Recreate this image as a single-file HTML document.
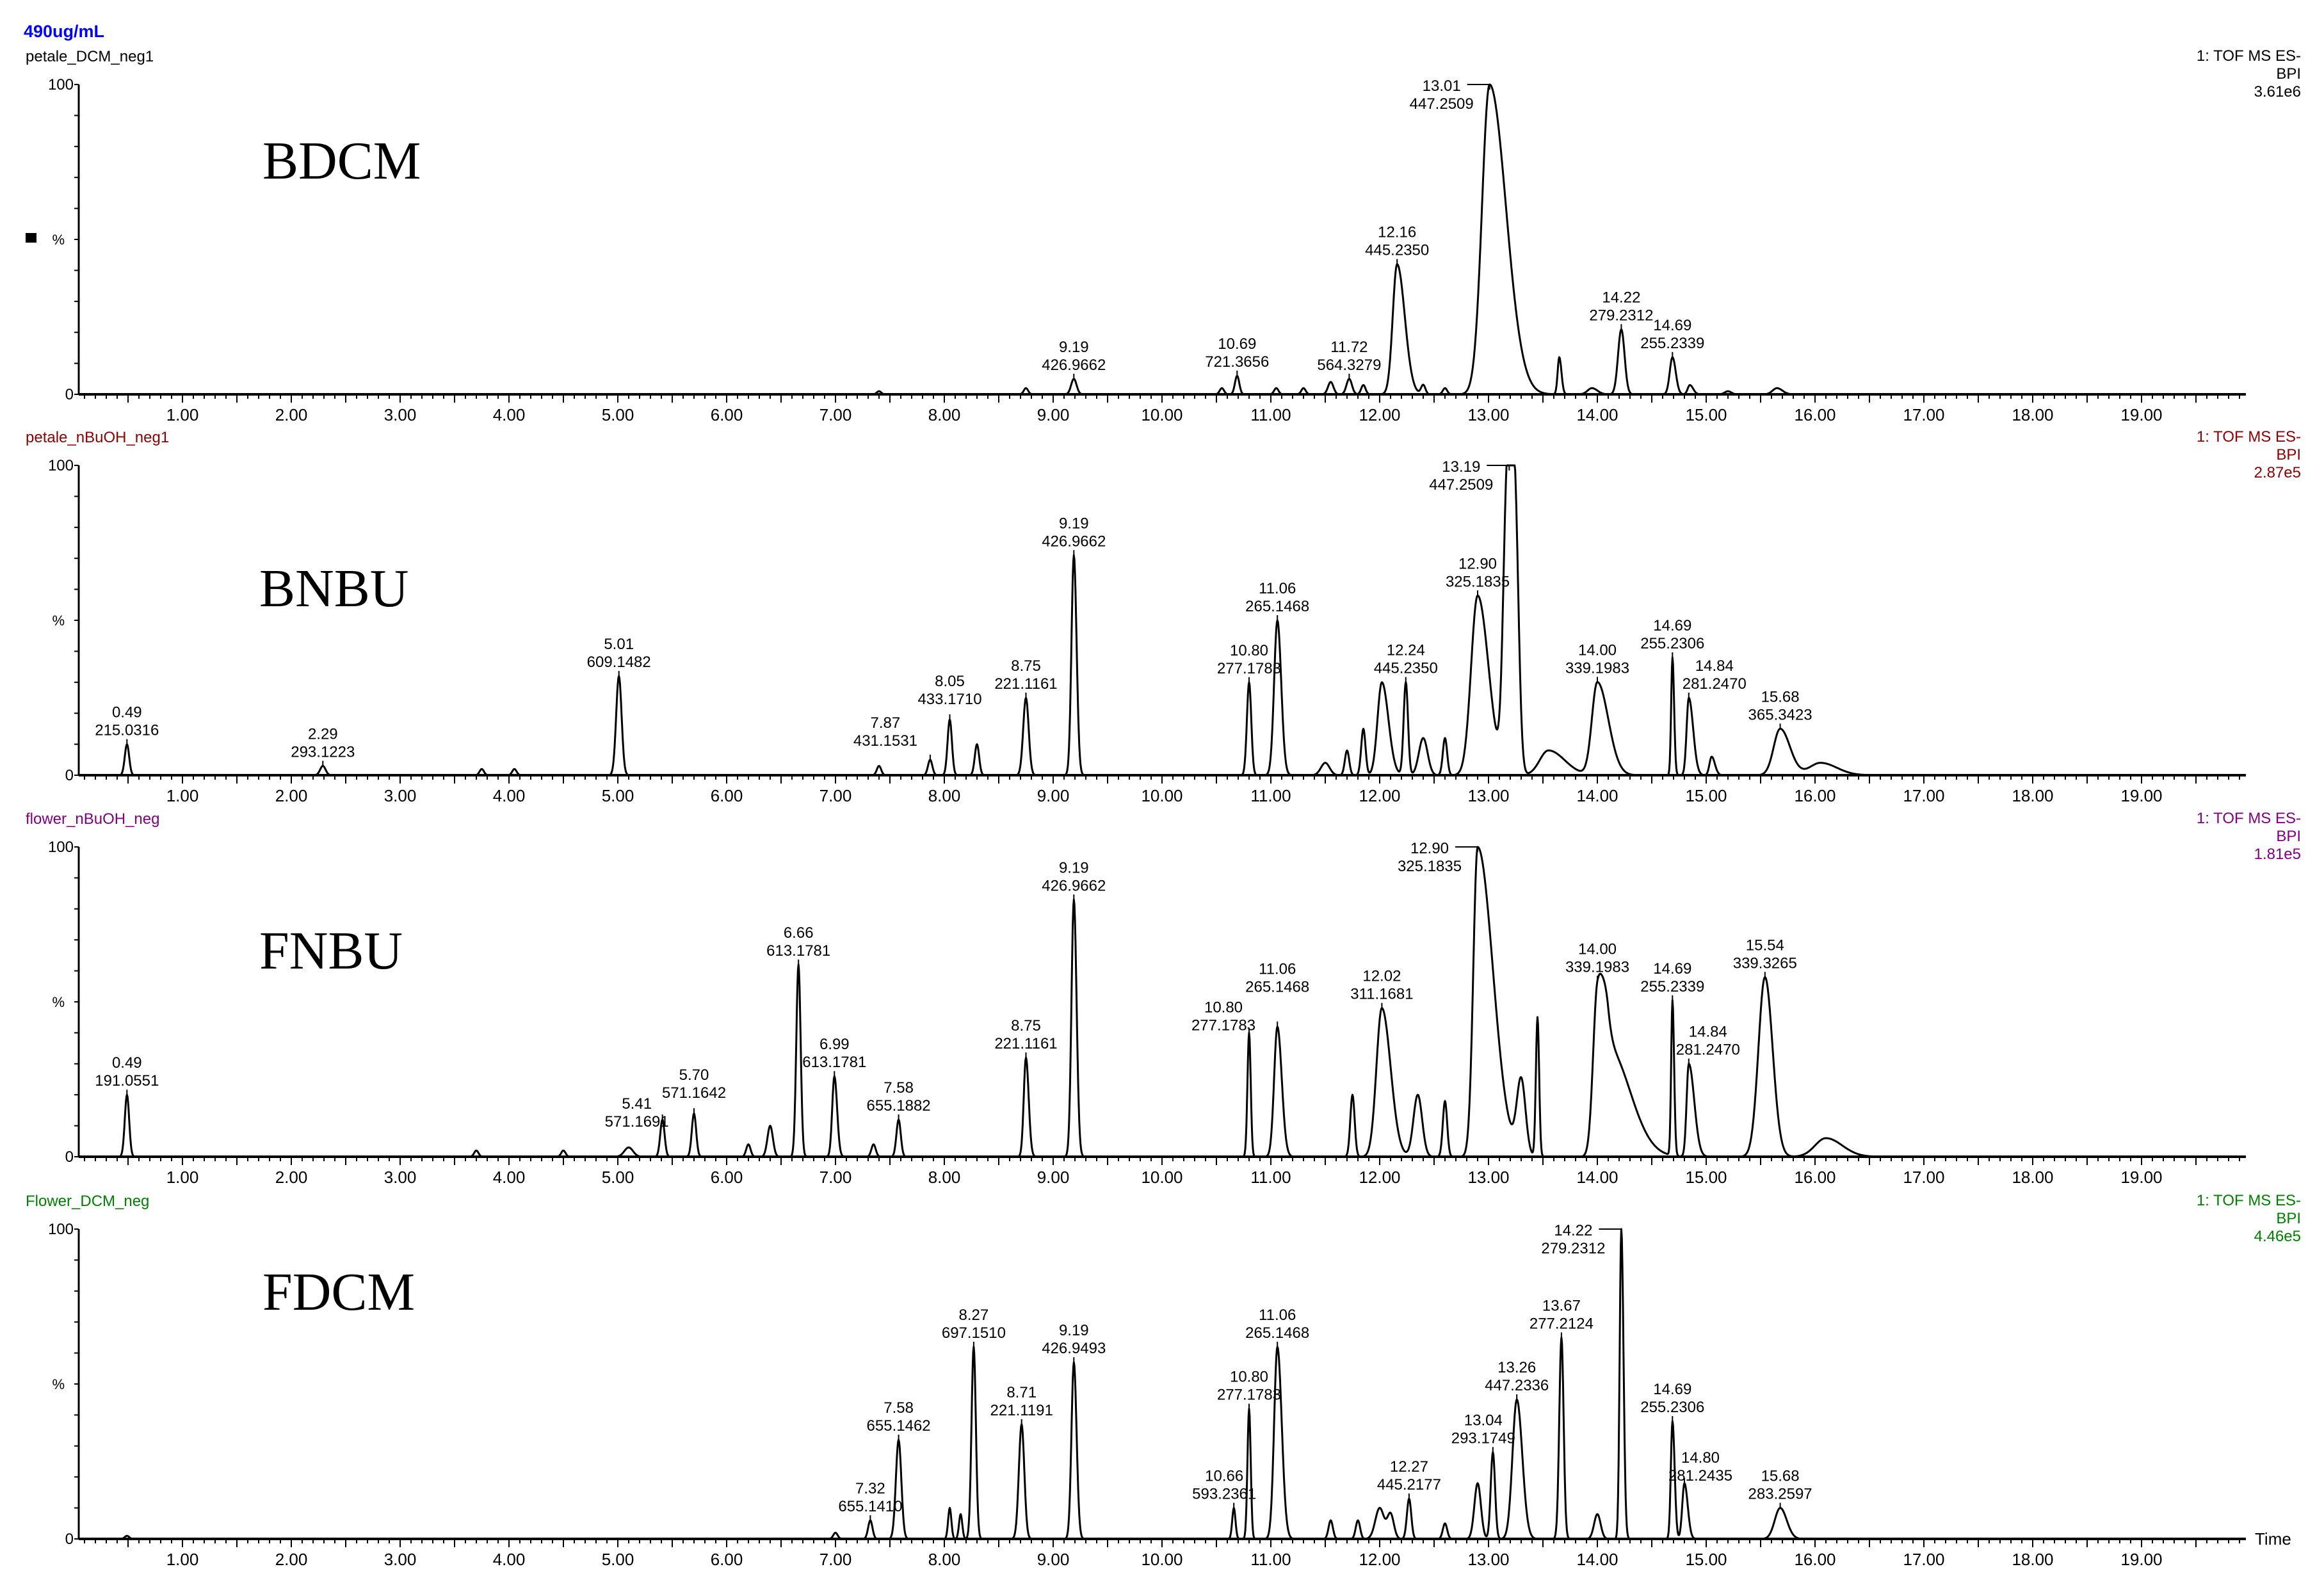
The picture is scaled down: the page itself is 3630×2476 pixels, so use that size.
<!DOCTYPE html>
<html><head><meta charset="utf-8"><style>
html,body{margin:0;padding:0;background:#fff;}
svg{display:block;}
text{font-family:"Liberation Sans",sans-serif;}
text.tag{font-family:"Liberation Serif",serif;}
</style></head><body>
<svg id="chart" width="3630" height="2476" viewBox="0 0 3630 2476" xmlns="http://www.w3.org/2000/svg">
<text x="37" y="58" font-size="27" font-weight="bold" fill="#0000ff">490ug/mL</text>
<rect x="40" y="364" width="17" height="15" fill="#000"/>
</svg>
<script>
// ---- data ----
const panelNames = ["petale_DCM_neg1","petale_nBuOH_neg1","flower_nBuOH_neg","Flower_DCM_neg"];
const panelTags = ["BDCM","BNBU","FNBU","FDCM"];
const panelScales = ["3.61e6","2.87e5","1.81e5","4.46e5"];
const panelColors = ["#000000","#8b0000","#800080","#008000"];
const xTicks = [1,2,3,4,5,6,7,8,9,10,11,12,13,14,15,16,17,18,19];

// peaks: retention time (min), relative intensity (%), left/right width (min)
const p1Times = [7.40,8.75,9.19,10.55,10.69,11.05,11.30,11.55,11.72,11.85,12.16,12.40,12.60,13.01,13.65,13.95,14.22,14.69,14.85,15.20,15.65];
const p1Heights = [1,2,5,2,6,2,2,4,5,3,42,3,2,100,12,2,21,12,3,1,2];
const p1WL = [0.02,0.02,0.025,0.02,0.02,0.02,0.02,0.025,0.025,0.02,0.04,0.02,0.02,0.07,0.015,0.04,0.03,0.025,0.02,0.03,0.04];
const p1WR = [0.02,0.02,0.025,0.02,0.02,0.02,0.02,0.025,0.025,0.02,0.07,0.02,0.02,0.15,0.02,0.05,0.03,0.03,0.03,0.03,0.05];

const p2Times = [0.49,2.29,3.75,4.05,5.01,7.40,7.87,8.05,8.30,8.75,9.19,10.80,11.06,11.50,11.70,11.85,12.02,12.24,12.40,12.60,12.90,13.17,13.24,13.55,14.00,14.69,14.84,15.05,15.68,16.05];
const p2Heights = [10,3,2,2,32,3,5,18,10,25,71,30,50,4,8,15,30,30,12,12,58,90,90,8,30,38,25,6,15,4];
const p2WL = [0.02,0.025,0.02,0.02,0.025,0.02,0.02,0.02,0.02,0.025,0.022,0.02,0.03,0.04,0.02,0.02,0.04,0.02,0.04,0.02,0.06,0.035,0.035,0.08,0.05,0.012,0.02,0.02,0.06,0.1];
const p2WR = [0.02,0.025,0.02,0.02,0.025,0.02,0.02,0.02,0.02,0.025,0.025,0.02,0.035,0.04,0.02,0.02,0.06,0.02,0.04,0.02,0.1,0.035,0.035,0.15,0.1,0.015,0.04,0.03,0.09,0.15];

const p3Times = [0.49,3.70,4.50,5.10,5.41,5.70,6.20,6.40,6.66,6.99,7.35,7.58,8.75,9.19,10.80,11.06,11.75,12.02,12.35,12.60,12.90,13.30,13.45,14.00,14.10,14.69,14.84,15.54,16.10];
const p3Heights = [20,2,2,3,12,14,4,10,62,26,4,12,32,83,40,42,20,48,20,18,100,24,45,52,35,50,30,58,6];
const p3WL = [0.02,0.02,0.02,0.04,0.02,0.02,0.02,0.025,0.02,0.02,0.02,0.02,0.02,0.022,0.015,0.03,0.02,0.05,0.04,0.02,0.04,0.04,0.015,0.04,0.05,0.012,0.02,0.06,0.1];
const p3WR = [0.02,0.02,0.02,0.04,0.02,0.02,0.02,0.025,0.02,0.025,0.02,0.02,0.025,0.025,0.015,0.04,0.02,0.08,0.04,0.02,0.14,0.04,0.015,0.06,0.2,0.015,0.05,0.07,0.15];

const p4Times = [0.49,7.00,7.32,7.58,8.05,8.15,8.27,8.71,9.19,10.66,10.80,11.06,11.55,11.80,12.00,12.10,12.27,12.60,12.90,13.04,13.26,13.67,14.00,14.22,14.69,14.80,15.68];
const p4Heights = [1,2,6,32,10,8,62,37,57,10,42,62,6,6,10,8,13,5,18,28,45,65,8,100,38,18,10];
const p4WL = [0.02,0.02,0.02,0.025,0.015,0.015,0.02,0.025,0.022,0.015,0.015,0.03,0.02,0.02,0.04,0.03,0.02,0.02,0.03,0.02,0.04,0.02,0.03,0.015,0.015,0.02,0.05];
const p4WR = [0.02,0.02,0.02,0.025,0.015,0.015,0.02,0.025,0.025,0.015,0.015,0.04,0.02,0.02,0.04,0.03,0.02,0.02,0.03,0.02,0.05,0.02,0.03,0.02,0.02,0.03,0.06];

// annotations
const a1Times = [9.19,10.69,11.72,12.16,13.01,14.22,14.69];
const a1Mass = ["426.9662","721.3656","564.3279","445.2350","447.2509","279.2312","255.2339"];
const a2Times = [0.49,2.29,5.01,7.87,8.05,8.75,9.19,10.80,11.06,12.24,12.90,13.19,14.00,14.69,14.84,15.68];
const a2Mass = ["215.0316","293.1223","609.1482","431.1531","433.1710","221.1161","426.9662","277.1783","265.1468","445.2350","325.1835","447.2509","339.1983","255.2306","281.2470","365.3423"];
const a3Times = [0.49,5.41,5.70,6.66,6.99,7.58,8.75,9.19,10.80,11.06,12.02,12.90,14.00,14.69,14.84,15.54];
const a3Mass = ["191.0551","571.1691","571.1642","613.1781","613.1781","655.1882","221.1161","426.9662","277.1783","265.1468","311.1681","325.1835","339.1983","255.2339","281.2470","339.3265"];
const a4Times = [7.32,7.58,8.27,8.71,9.19,10.66,10.80,11.06,12.27,13.04,13.26,13.67,14.22,14.69,14.80,15.68];
const a4Mass = ["655.1410","655.1462","697.1510","221.1191","426.9493","593.2361","277.1783","265.1468","445.2177","293.1749","447.2336","277.2124","279.2312","255.2306","281.2435","283.2597"];

const peakSets = [[p1Times,p1Heights,p1WL,p1WR],[p2Times,p2Heights,p2WL,p2WR],[p3Times,p3Heights,p3WL,p3WR],[p4Times,p4Heights,p4WL,p4WR]];
const annSets = [[a1Times,a1Mass],[a2Times,a2Mass],[a3Times,a3Mass],[a4Times,a4Mass]];

// label placement tweaks (layout only)
const labelShift = {"1:7.87":[-70,-8],"1:8.05":[0,-10],"1:14.84":[40,0],
  "2:5.41":[-40,25],"2:5.70":[0,-10],"2:10.80":[-40,10],"2:11.06":[0,-40],"2:14.84":[30,0],
  "3:14.80":[25,10],"3:10.66":[-15,0],"3:13.04":[-15,0]};

// ---- layout ----
const NS = "http://www.w3.org/2000/svg";
const svg = document.getElementById("chart");
const X0 = 123, X1 = 3508;
const bases = [616,1211,1807,2404];
const PH = 484;
function xs(t){ return 115 + 170*t; }
function mk(tag, attrs, parent){ const e=document.createElementNS(NS,tag); for(const k in attrs) e.setAttribute(k,attrs[k]); (parent||svg).appendChild(e); return e; }
function signal(set, t){
  let s=0; const [T,H,WL,WR]=set;
  for(let i=0;i<T.length;i++){ const d=t-T[i]; const w=d<0?WL[i]:WR[i]; s+=H[i]*Math.exp(-0.5*(d/w)*(d/w)); }
  return Math.min(s,100);
}

for(let p=0;p<4;p++){
  const base=bases[p]; const ys=v=>base - v/100*PH;
  const g=mk("g",{});
  
  
  const col=panelColors[p];
  let t1=mk("text",{x:40,y:base-520,"font-size":24,fill:col},g); t1.textContent=panelNames[p];
  
  
  const hdr=["1: TOF MS ES-","BPI",panelScales[p]];
  for(let i=0;i<3;i++){ const h=mk("text",{x:3594,y:base-521+i*28,"font-size":24,fill:col,"text-anchor":"end"},g); h.textContent=hdr[i];
    
     }
  const tag=mk("text",{x:[410,405,405,410][p],y:base+[-337,-264,-294,-358][p],"font-size":84,"class":"tag",fill:"#000"},g);
  tag.textContent=panelTags[p];
  
  
  // y axis
  const ya=mk("line",{x1:X0,y1:base-PH,x2:X0,y2:base+1,stroke:"#000","stroke-width":3},g);
  
  
  for(let k=0;k<=10;k++){ mk("line",{x1:X0-7,y1:ys(k*10),x2:X0,y2:ys(k*10),stroke:"#000","stroke-width":2},g); }
  let l100=mk("text",{x:X0-8,y:base-PH+8,"font-size":24,"text-anchor":"end"},g); l100.textContent="100";
  
  
  let l0=mk("text",{x:X0-8,y:base+8,"font-size":24,"text-anchor":"end"},g); l0.textContent="0";
  
  
  let pc=mk("text",{x:X0-22,y:ys(50)+8,"font-size":22,"text-anchor":"end"},g); pc.textContent="%";
  
  
  // x axis
  const xa=mk("line",{x1:X0,y1:base,x2:X1,y2:base,stroke:"#000","stroke-width":4},g);
  
  
  for(let k=1;k<=199;k++){ const t=k/10; const x=xs(t); if(x<X0||x>X1) continue; const major=(k%5===0);
    mk("line",{x1:x,y1:base,x2:x,y2:base+(major?13:7),stroke:"#000","stroke-width":2},g); }
  for(const t of xTicks){ const tl=mk("text",{x:xs(t),y:base+41,"font-size":26,"text-anchor":"middle"},g); tl.textContent=t.toFixed(2);
    
     }
  // trace
  let d=""; for(let t=0.05;t<=16.9;t+=0.005){ d+=(d?"L":"M")+xs(t).toFixed(1)+","+ys(signal(peakSets[p],t)).toFixed(1); }
  const tr=mk("path",{d:d,fill:"none",stroke:"#000","stroke-width":3,"stroke-linejoin":"round"},g);
  
  
  // annotations
  const [AT,AM]=annSets[p];
  for(let i=0;i<AT.length;i++){
    const t=AT[i]; const v=signal(peakSets[p],t); const py=ys(v); let lx=xs(t), ly=py-14;
    const sh=labelShift[p+":"+t.toFixed(2)]||[0,0];
    if(v>95){ lx=xs(t)-75; ly=py+38; }
    lx+=sh[0]; ly+=sh[1];
    const ag=mk("g",{},g);
    
    
    if(v>95){ mk("path",{d:`M${lx+40},${py}L${xs(t)},${py}L${xs(t)},${py+8}`,fill:"none",stroke:"#000","stroke-width":2},ag); }
    else mk("line",{x1:xs(t),y1:py,x2:xs(t),y2:py-8,stroke:"#000","stroke-width":2},ag);
    const a=mk("text",{x:lx,y:ly-28,"font-size":24,"text-anchor":"middle"},ag); a.textContent=t.toFixed(2);
    const b=mk("text",{x:lx,y:ly,"font-size":24,"text-anchor":"middle"},ag); b.textContent=AM[i];
  }
}
const tm=mk("text",{x:3522,y:2413,"font-size":26}); tm.textContent="Time";


</script>
</body></html>
